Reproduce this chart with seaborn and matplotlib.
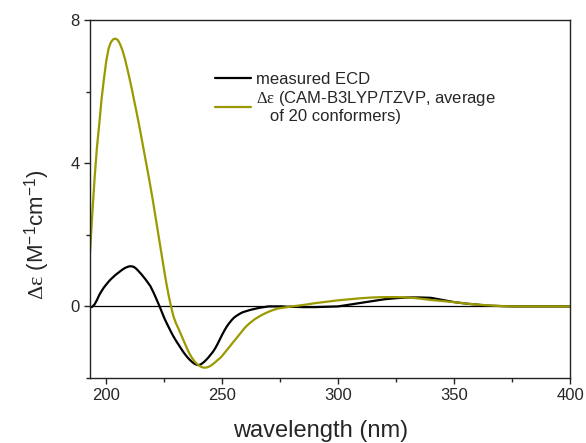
import numpy as np
import pandas as pd
import seaborn as sns
import matplotlib.pyplot as plt
from matplotlib.ticker import MultipleLocator

# wavelength grid (nm): 1 nm where the bands are, coarser in the flat tail
wavelength = (list(range(193, 261)) + list(range(262, 281, 2))
              + list(range(285, 401, 5)))

# values (M^-1 cm^-1)
measured = [
    -0.03, -0.01, 0.06, 0.18, 0.32, 0.43, 0.53, 0.61, 0.69, 0.76,       # 193-202
    0.82, 0.88, 0.93, 0.98, 1.03, 1.07, 1.10, 1.12, 1.12, 1.10,         # 203-212
    1.05, 0.98, 0.91, 0.83, 0.75, 0.66, 0.57, 0.44, 0.30, 0.15,         # 213-222
    0.00, -0.16, -0.32, -0.46, -0.59, -0.72, -0.84, -0.95, -1.05, -1.15,  # 223-232
    -1.25, -1.34, -1.42, -1.49, -1.55, -1.60, -1.63, -1.64, -1.61, -1.56,  # 233-242
    -1.50, -1.43, -1.35, -1.27, -1.17, -1.05, -0.92, -0.79, -0.67, -0.56,  # 243-252
    -0.47, -0.39, -0.32, -0.27, -0.23, -0.19, -0.16, -0.14,              # 253-260
    -0.10, -0.07, -0.04, -0.02, 0.00, 0.00, 0.00, 0.00, -0.01, -0.01,     # 262-280
    -0.02, -0.02, -0.01, 0.00, 0.05, 0.10, 0.15, 0.20, 0.23, 0.25,       # 285-330
    0.25, 0.24, 0.18, 0.12, 0.08, 0.05, 0.02, 0.01, 0.00, 0.00,          # 335-380
    0.00, 0.00, 0.00, 0.00,                                              # 385-400
]

calculated = [
    1.50, 2.60, 3.60, 4.45, 5.10, 5.80, 6.35, 6.85, 7.20, 7.38,         # 193-202
    7.46, 7.48, 7.44, 7.32, 7.15, 6.93, 6.66, 6.38, 6.08, 5.76,         # 203-212
    5.45, 5.12, 4.78, 4.43, 4.08, 3.73, 3.37, 3.00, 2.60, 2.20,         # 213-222
    1.80, 1.40, 1.00, 0.62, 0.28, -0.02, -0.28, -0.46, -0.60, -0.75,    # 223-232
    -0.90, -1.05, -1.20, -1.33, -1.44, -1.53, -1.60, -1.65, -1.69, -1.71,  # 233-242
    -1.71, -1.69, -1.66, -1.61, -1.56, -1.50, -1.45, -1.38, -1.30, -1.22,  # 243-252
    -1.14, -1.06, -0.98, -0.90, -0.82, -0.74, -0.66, -0.58,              # 253-260
    -0.46, -0.36, -0.28, -0.21, -0.15, -0.10, -0.06, -0.04, -0.02, 0.00,  # 262-280
    0.04, 0.09, 0.13, 0.17, 0.20, 0.23, 0.25, 0.26, 0.26, 0.25,          # 285-330
    0.22, 0.18, 0.15, 0.12, 0.08, 0.05, 0.03, 0.01, 0.00, 0.00,          # 335-380
    0.00, 0.00, 0.00, 0.00,                                              # 385-400
]

lbl_meas = 'measured ECD'
lbl_calc = '$\\mathrm{\\Delta\\varepsilon}$ (CAM-B3LYP/TZVP, average\n   of 20 conformers)'

sns.set_theme(style='ticks')
plt.rcParams['font.family'] = ['Liberation Sans', 'DejaVu Sans']
plt.rcParams['mathtext.fontset'] = 'custom'
plt.rcParams['mathtext.rm'] = 'Liberation Serif'
plt.rcParams['mathtext.it'] = 'Liberation Serif:italic'
plt.rcParams['mathtext.sf'] = 'Liberation Sans'

df = pd.DataFrame({
    'wavelength': wavelength * 2,
    'de': measured + calculated,
    'series': [lbl_meas] * len(wavelength) + [lbl_calc] * len(wavelength),
})

fig = plt.figure(figsize=(5.86, 4.43), dpi=100)
ax = fig.add_axes([0.1536, 0.1467, 0.8191, 0.8082])

ax.axhline(0, color='black', lw=0.9, zorder=1)
sns.lineplot(data=df, x='wavelength', y='de', hue='series',
             palette={lbl_meas: 'black', lbl_calc: '#9a9a00'},
             hue_order=[lbl_meas, lbl_calc], lw=1.6, ax=ax, sort=False)

ax.set_xlim(193, 400)
ax.set_ylim(-2, 8)
ax.set_xticks([200, 250, 300, 350, 400])
ax.set_yticks([0, 4, 8])
ax.xaxis.set_minor_locator(MultipleLocator(25))
ax.yaxis.set_minor_locator(MultipleLocator(2))
ax.tick_params(which='major', length=4.5, width=1, labelsize=12, pad=3, direction='out')
ax.tick_params(which='minor', length=2.8, width=1, direction='out')
for s in ax.spines.values():
    s.set_visible(True)
    s.set_color('#222222')
    s.set_linewidth(1)

ax.set_xlabel('wavelength (nm)', fontsize=17)
ax.set_ylabel('$\\mathrm{\\Delta\\varepsilon}$ (M$^{\\mathsf{-1}}$cm$^{\\mathsf{-1}}$)', fontsize=16)
ax.xaxis.set_label_coords(0.48, -0.118)
ax.yaxis.set_label_coords(-0.08, 0.40)

leg = ax.legend(loc='upper left', bbox_to_anchor=(0.26, 0.855), frameon=False,
                fontsize=12, handlelength=2.2, handletextpad=0.3,
                labelspacing=0.15, borderpad=0, borderaxespad=0)
for t in leg.get_texts():
    t.set_linespacing(1.05)
for h in leg.get_lines():
    h.set_linewidth(1.6)

fig.savefig('out.png', dpi=100)
